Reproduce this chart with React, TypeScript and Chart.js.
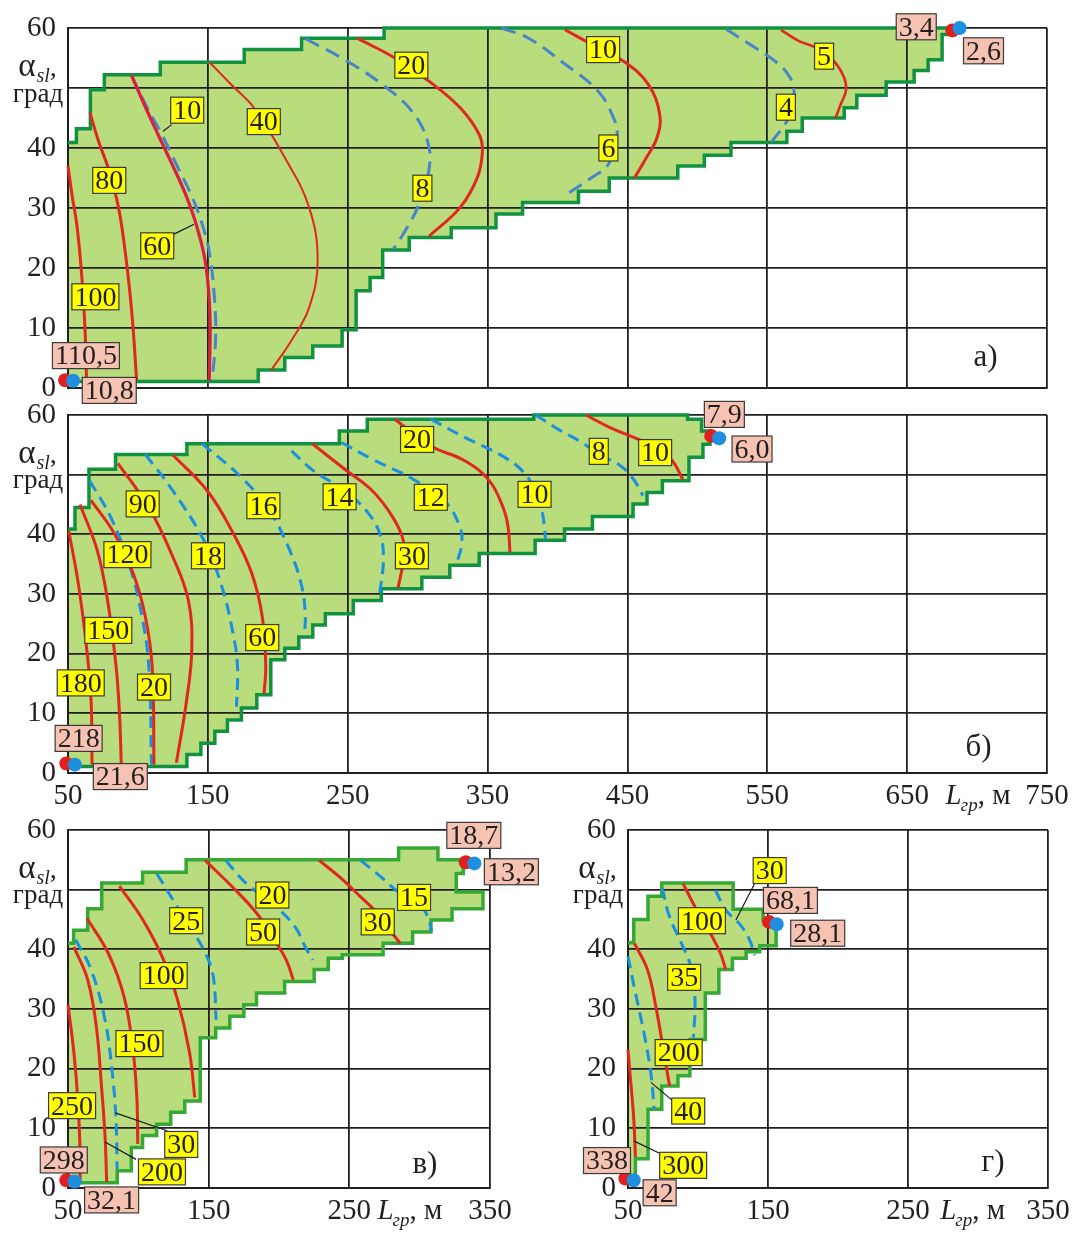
import React, { useEffect, useRef } from 'react';
import { Chart, registerables } from 'chart.js';

Chart.register(...registerables);

type Pt = [number, number];
type Lbl = [number, number, string];
type Seg = [Pt, Pt];

// ---------- shared ticks ----------
const X_TICKS_WIDE = [50, 150, 250, 350, 450, 550, 650, 750];
const X_TICKS_NARROW = [50, 150, 250, 350];
const Y_TICKS = [0, 10, 20, 30, 40, 50, 60];

// ================= а) =================
const A_REGION: Pt[] = [
  [50, 1.1], [186, 1.1], [186, 3], [205, 3], [205, 5.1], [225, 5.1], [225, 7], [246, 7], [246, 9.7], [256, 9.7],
  [256, 16.2], [266, 16.2], [266, 18.4], [275, 18.4], [275, 23], [294, 23], [294, 25.1], [324, 25.1], [324, 26.7],
  [356, 26.7], [356, 29], [375, 29], [375, 30.9], [415, 30.9], [415, 32.8], [437, 32.8], [437, 35], [486, 35],
  [486, 37], [505, 37], [505, 38.8], [524, 38.8], [524, 40.9], [564, 40.9], [564, 42.8], [575, 42.8], [575, 45],
  [605, 45], [605, 46.7], [614, 46.7], [614, 48.8], [635, 48.8], [635, 51], [655, 51], [655, 52.9], [665, 52.9],
  [665, 54.7], [675, 54.7], [675, 58.9], [684, 58.9], [684, 60], [276, 60], [276, 58.3], [217, 58.3], [217, 56.4],
  [176, 56.4], [176, 54.3], [116, 54.3], [116, 52.2], [76, 52.2], [76, 49.7], [66, 49.7], [66, 43.2], [56, 43.2],
  [56, 40.9], [50, 40.9], [50, 1.1],
];
const A_RED_100: Pt[] = [[50, 37], [53, 32], [56.6, 26.7], [60.3, 17.3], [62.3, 9], [63.3, 1.2]];
const A_RED_80: Pt[] = [[65.7, 45.9], [72, 41], [78.7, 36.7], [86.1, 30.1], [91.7, 21.2], [95.9, 11.8], [99.1, 1.2]];
const A_RED_60: Pt[] = [[95.4, 52.1], [105, 47], [114.3, 42.3], [124, 37.5], [134, 32.3], [142, 27], [148.5, 20.6], [151.5, 12], [151, 1.2]];
const A_BLUE_10: Pt[] = [[95.4, 52.1], [106, 47], [117, 42.3], [128, 37], [139, 31.7], [147, 26.5], [151.5, 22], [155, 14], [155.5, 8], [153, 1.2]];
const A_RED_40: Pt[] = [[151.2, 54.3], [167, 50.5], [183, 46.7], [205, 38.4], [222.4, 30.1], [228.5, 21.2], [222.4, 13.4], [210, 8], [195.3, 3]];
const A_BLUE_8: Pt[] = [[219.9, 58.2], [249.4, 54.5], [276.4, 50.3], [296, 46.1], [307, 41.2], [308.3, 36.7], [300.9, 30.6], [291.1, 26.2], [282.5, 23.1]];
const A_RED_20: Pt[] = [[256.7, 58.3], [283.7, 55], [308.3, 51.1], [330.4, 46.7], [343.9, 42.3], [346.3, 39.5], [342.7, 35.1], [330.4, 30.1], [308.3, 25.3]];
const A_BLUE_6: Pt[] = [[359.8, 60], [379.3, 58.3], [404.1, 54.2], [428.9, 49.5], [440.1, 45], [442.6, 42.3], [436.4, 37.3], [422.7, 34.8], [406.6, 32.3]];
const A_RED_10: Pt[] = [[405.4, 59.7], [428.9, 56.7], [448.8, 54.2], [464.9, 50.6], [473.1, 45.6], [471.1, 41.7], [463.6, 38.4], [455, 35]];
const A_BLUE_4: Pt[] = [[520.7, 59.8], [538, 57.2], [555.4, 54.5], [564.1, 52.5], [569, 50], [567.8, 46.7], [564.1, 44.5], [553, 41]];
const A_RED_5: Pt[] = [[559.8, 59.7], [572.7, 57.8], [585.1, 56.7], [597.5, 54.5], [605, 51.7], [606.2, 49.5], [602.5, 47.3], [598.8, 45]];
const A_YELLOW: Lbl[] = [
  [135.2, 46.3, '10'], [190, 44.4, '40'], [295.5, 53.8, '20'], [79.5, 34.6, '80'], [303.4, 33.3, '8'],
  [113.8, 23.7, '60'], [69.6, 15.2, '100'], [432.6, 56.4, '10'], [436.4, 40, '6'], [590.6, 55.3, '5'], [563.3, 46.8, '4'],
];
const A_PINK: Lbl[] = [[62.8, 5.4, '110,5'], [79.5, -0.4, '10,8'], [656.5, 60.2, '3,4'], [704.6, 56.2, '2,6']];
const A_RED_DOTS: Pt[] = [[48, 1.3], [682.3, 59.6]];
const A_BLUE_DOTS: Pt[] = [[53.7, 1.2], [687.5, 60]];
const A_LEADERS: Seg[] = [[[124.1, 43.9], [118, 42.8]], [[125.4, 25.6], [140.1, 27.3]]];

// ================= б) =================
const B_REGION: Pt[] = [
  [50, 1.1], [135, 1.1], [135, 3.1], [145, 3.1], [145, 5], [155, 5], [155, 7], [164, 7], [164, 8.9], [174, 8.9],
  [174, 10.9], [185, 10.9], [185, 13.1], [195, 13.1], [195, 19], [205, 19], [205, 20.9], [215, 20.9], [215, 22.8],
  [225, 22.8], [225, 24.8], [234, 24.8], [234, 26.7], [254, 26.7], [254, 28.9], [274, 28.9], [274, 30.9], [303, 30.9],
  [303, 32.8], [323, 32.8], [323, 34.8], [344, 34.8], [344, 36.8], [384, 36.8], [384, 39], [405, 39], [405, 40.9],
  [425, 40.9], [425, 43], [454, 43], [454, 45.1], [464, 45.1], [464, 47], [475, 47], [475, 49], [494, 49], [494, 52.9],
  [504, 52.9], [504, 55.1], [509, 55.1], [509, 57.3], [503, 57.3], [503, 59.3], [493, 59.3], [493, 60], [383, 60],
  [383, 59.3], [264, 59.3], [264, 57.3], [244, 57.3], [244, 55.2], [135, 55.2], [135, 53.4], [84, 53.4], [84, 50.9],
  [65, 50.9], [65, 44.5], [55, 44.5], [55, 40.9], [50, 40.9], [50, 1.1],
];
const B_RED_180: Pt[] = [[50.5, 40.6], [57.4, 31.7], [63.5, 20.6], [66.5, 12.2], [67.2, 1.4]];
const B_RED_150: Pt[] = [[58.6, 45], [70.9, 37.3], [78.3, 28.9], [84.4, 17.8], [86.9, 9.5], [88.1, 1.4]];
const B_RED_120: Pt[] = [[66.5, 45.7], [83.2, 40.1], [96.7, 33.4], [105.3, 26.2], [110.2, 17.8], [111.5, 1.4]];
const B_BLUE_20: Pt[] = [[65.5, 49], [80.7, 42.8], [94.3, 34.5], [102.9, 26.2], [107.8, 17.8], [109.7, 1.4]];
const B_RED_90: Pt[] = [[85.7, 51.9], [107.8, 44.5], [125, 36.2], [136.1, 28.9], [138.5, 20.6], [134.8, 12.2], [127.5, 1.7]];
const B_BLUE_18: Pt[] = [[105.3, 53.4], [125, 47.3], [147.1, 39], [159.4, 31.7], [168, 23.4], [171.2, 17.8], [170.5, 11.1]];
const B_RED_60: Pt[] = [[125, 53.3], [149.6, 47.3], [168.3, 40.1], [181.5, 33.4], [188.9, 26.2], [191.4, 17.8], [190.2, 13.4]];
const B_BLUE_16: Pt[] = [[145.9, 55.2], [174.2, 49.5], [193.8, 44], [208.6, 37.3], [217.2, 31.2], [219.7, 26.2], [218.9, 23]];
const B_BLUE_14: Pt[] = [[209.8, 54], [225.8, 50.6], [247.9, 47.3], [265.2, 43.4], [273.8, 39.5], [275.5, 35.6], [273.8, 31.7], [272, 28.9]];
const B_RED_30: Pt[] = [[224.6, 55.2], [247.9, 50.9], [267.6, 47.3], [282.4, 42.8], [289.7, 39], [289.7, 35.6], [286, 31]];
const B_BLUE_12: Pt[] = [[245.5, 55.4], [267.6, 52.6], [297.1, 49.2], [319.3, 45.6], [330.3, 41.2], [331.5, 38.4], [327.8, 35]];
const B_RED_20: Pt[] = [[283.6, 59.3], [309.4, 54.8], [334, 52.3], [351.2, 49], [361.1, 44.5], [364.7, 41.2], [366, 37]];
const B_BLUE_10: Pt[] = [[309.4, 59.3], [334, 56.2], [358.6, 53.4], [375, 50.6], [385, 47], [389, 43.9], [391.5, 39.2]];
const B_BLUE_8: Pt[] = [[384.4, 60], [400.5, 57.6], [415.3, 55.7], [430.2, 53.4], [445, 51.5], [452.5, 49.8], [457.4, 48.1], [461.1, 46.5]];
const B_RED_10: Pt[] = [[420.3, 60], [437.6, 57.9], [455, 56.2], [471, 54.5], [482.2, 52.3], [489.6, 49.2]];
const B_YELLOW: Lbl[] = [
  [103.4, 45.1, '90'], [189.7, 44.8, '16'], [244.2, 46.3, '14'], [309.4, 46.2, '12'], [299.6, 55.9, '20'],
  [92.5, 36.6, '120'], [150.1, 36.4, '18'], [295.9, 36.4, '30'], [78.8, 23.9, '150'], [188.9, 22.7, '60'],
  [59.1, 15.1, '180'], [111.5, 14.4, '20'], [383.6, 46.7, '10'], [429.5, 53.9, '8'], [469.8, 53.7, '10'],
];
const B_PINK: Lbl[] = [[57.6, 5.8, '218'], [87.4, -0.6, '21,6'], [519.3, 60.1, '7,9'], [539.1, 54.3, '6,0']];
const B_RED_DOTS: Pt[] = [[48.8, 1.6], [509.9, 56.5]];
const B_BLUE_DOTS: Pt[] = [[54.9, 1.4], [515.6, 56.1]];

// ================= в) =================
const V_REGION: Pt[] = [
  [50, 0.9], [85, 0.9], [85, 2.9], [95, 2.9], [95, 6.8], [103, 6.8], [103, 8.8], [113, 8.8], [113, 10.7], [123, 10.7],
  [123, 12.7], [133, 12.7], [133, 14.6], [144, 14.6], [144, 25.2], [155, 25.2], [155, 26.8], [165, 26.8], [165, 28.8],
  [175, 28.8], [175, 30.7], [184, 30.7], [184, 32.7], [204, 32.7], [204, 34.6], [225, 34.6], [225, 36.6], [235, 36.6],
  [235, 38.5], [245, 38.5], [245, 39.1], [274, 39.1], [274, 41], [295, 41], [295, 42.9], [308, 42.9], [308, 44.9],
  [323, 44.9], [323, 46.8], [345, 46.8], [345, 49.6], [326, 49.6], [326, 52.7], [331, 52.7], [331, 55], [313, 55],
  [313, 57], [285, 57], [285, 55], [134, 55], [134, 52.9], [103, 52.9], [103, 51.1], [74, 51.1], [74, 46.8], [64, 46.8],
  [64, 43.2], [54, 43.2], [54, 41], [50, 41], [50, 0.9],
];
const V_RED_250: Pt[] = [[50, 30.7], [54.2, 22.7], [57.1, 14.3], [58.6, 6], [58.6, 1]];
const V_RED_200: Pt[] = [[54.2, 40.4], [64, 34.9], [70.1, 27.1], [73.8, 17.1], [76.3, 8.8], [77.5, 1]];
const V_BLUE_30: Pt[] = [[55.4, 41.6], [66.4, 36.6], [76.3, 28.2], [81.2, 19.9], [84.1, 11.6], [84.9, 3.2]];
const V_RED_150: Pt[] = [[63.5, 45.2], [78.7, 39.3], [89.8, 32.1], [95.9, 23.8], [98.9, 15.4], [99.6, 7.4]];
const V_RED_100: Pt[] = [[86.6, 50.6], [103.3, 44.9], [118, 38.2], [127.8, 31.6], [136.4, 22.7], [140.1, 15.2]];
const V_BLUE_25: Pt[] = [[113.1, 52.7], [127.8, 47.1], [141.3, 42.1], [149.9, 38.2], [153.6, 34.9], [155.3, 28.2]];
const V_RED_50: Pt[] = [[147.5, 54.9], [167.1, 50.4], [184.3, 46], [196.6, 41.6], [205.2, 38.2], [210.1, 34.9]];
const V_BLUE_20: Pt[] = [[162.2, 54.9], [176.9, 51], [196.6, 47.4], [211.3, 43.8], [218.7, 40.4], [224.1, 38.2]];
const V_RED_30: Pt[] = [[228.5, 54.9], [243.2, 52.1], [258, 48.8], [270.2, 46], [278.8, 43.2], [286.2, 41]];
const V_BLUE_15: Pt[] = [[258, 54.9], [272.7, 52.1], [285, 49.6], [299.7, 47.7], [305.8, 45.4], [308.5, 43]];
const V_YELLOW: Lbl[] = [
  [134, 44.8, '25'], [195.3, 49.1, '20'], [188.7, 42.9, '50'], [296, 48.7, '15'], [270.2, 44.6, '30'],
  [118, 35.6, '100'], [100.8, 24.2, '150'], [52.9, 13.8, '250'], [130.5, 7.3, '30'], [116.8, 2.7, '200'],
];
const V_PINK: Lbl[] = [[47, 4.7, '298'], [81, -2, '32,1'], [338.5, 59.1, '18,7'], [365.2, 53, '13,2']];
const V_RED_DOTS: Pt[] = [[48.8, 1.3], [332.8, 54.6]];
const V_BLUE_DOTS: Pt[] = [[54.7, 1.1], [338.9, 54.4]];
const V_LEADERS: Seg[] = [[[83.6, 12.6], [120.5, 9.6]], [[76.3, 7.7], [98.4, 4.8]]];

// ================= г) =================
const G_REGION: Pt[] = [
  [50, 0.7], [55.3, 0.7], [55.3, 4.9], [64.3, 4.9], [64.3, 13.2], [74.1, 13.2], [74.1, 17.1], [85.7, 17.1],
  [85.7, 18.8], [94.2, 18.8], [94.2, 24.9], [105.2, 24.9], [105.2, 32.7], [114.9, 32.7], [114.9, 36.6], [124.6, 36.6],
  [124.6, 38.5], [134.4, 38.5], [134.4, 39.6], [144.1, 39.6], [144.1, 40.6], [155.8, 40.6], [155.8, 44.9],
  [146.5, 44.9], [146.5, 46.7], [125.1, 46.7], [125.1, 51.1], [74.1, 51.1], [74.1, 48.9], [64.3, 48.9], [64.3, 45],
  [54.1, 45], [54.1, 41.1], [50, 41.1], [50, 0.7],
];
const G_RED_300: Pt[] = [[50, 23.2], [52.2, 17.1], [54.1, 11.6], [55.3, 5.2]];
const G_BLUE_40: Pt[] = [[50, 38.8], [55.3, 32.7], [61.4, 26], [66.3, 19.3], [68.7, 13.2]];
const G_RED_200: Pt[] = [[54.6, 41], [63.9, 36.6], [69.9, 30.4], [74.8, 23.8], [79.7, 17.1]];
const G_BLUE_35: Pt[] = [[74.5, 50.3], [79.7, 45.4], [88.2, 41], [95.5, 36.6], [97.9, 31], [96.7, 25.2]];
const G_RED_100: Pt[] = [[89.4, 51], [97.9, 47.1], [108.8, 42.7], [116.1, 39.3], [119.8, 36.6]];
const G_BLUE_30: Pt[] = [[112.5, 49.9], [119.8, 46.6], [129.5, 44.3], [136.8, 41.6], [140.4, 39]];
const G_YELLOW: Lbl[] = [
  [151.2, 53.2, '30'], [102.8, 44.8, '100'], [90.1, 35.3, '35'], [86.2, 22.7, '200'], [93, 12.9, '40'], [89.4, 3.8, '300'],
];
const G_PINK: Lbl[] = [[166, 48.2, '68,1'], [185.5, 42.7, '28,1'], [35, 4.6, '338'], [72.6, -0.8, '42']];
const G_RED_DOTS: Pt[] = [[48.1, 1.6], [150.7, 44.6]];
const G_BLUE_DOTS: Pt[] = [[54.1, 1.3], [156.2, 44.2]];
const G_LEADERS: Seg[] = [[[141, 51.3], [127.1, 44.9]], [[66.3, 17.7], [82.1, 14.6]], [[54.1, 7.9], [73.6, 5.7]]];

// ---------- styles ----------
const FONT = '"Liberation Serif", "Times New Roman", Times, serif';
const INK = '#231f20';
const GRID = '#231f20';
const FILL = '#b9dc7d';
const EDGE_DARK = '#119240';
const EDGE_LIGHT = '#36a835';
const RED = '#e1281f';
const CRIMSON = '#d8203f';
const BLUE_A = '#4a85c8';
const BLUE = '#1b8fe0';
const DOT_RED = '#e0201f';
const DOT_BLUE = '#1e8fdf';
const YELLOW = '#ffff00';
const PINK = '#f6c3b2';
const TICK_SIZE = 29;
const X_PAD = 6;

interface CurveSpec { pts: Pt[]; color: string; width: number; dash?: number[] }
interface PanelSpec {
  left: number; top: number; w: number; h: number;
  padTop: number; padRight: number; yAxisW: number; xAxisH: number;
  xMax: number; xTicks: number[]; showX: boolean; lTitleX?: number;
  region: Pt[]; edge: string;
  curves: CurveSpec[];
  yellow: Lbl[]; pink: Lbl[]; redDots: Pt[]; blueDots: Pt[]; leaders: Seg[];
  letter: Lbl;
}

const DASH_A = [15, 8];
const DASH = [12, 7];

const PANELS: PanelSpec[] = [
  {
    left: 0, top: 0, w: 1074, h: 410, padTop: 28, padRight: 27, yAxisW: 68, xAxisH: 22,
    xMax: 750, xTicks: X_TICKS_WIDE, showX: false, region: A_REGION, edge: EDGE_DARK,
    curves: [
      { pts: A_BLUE_10, color: BLUE_A, width: 3, dash: DASH_A },
      { pts: A_BLUE_8, color: BLUE_A, width: 3, dash: DASH_A },
      { pts: A_BLUE_6, color: BLUE_A, width: 3, dash: DASH_A },
      { pts: A_BLUE_4, color: BLUE_A, width: 3, dash: DASH_A },
      { pts: A_RED_100, color: RED, width: 3 },
      { pts: A_RED_80, color: RED, width: 3 },
      { pts: A_RED_60, color: CRIMSON, width: 3.2 },
      { pts: A_RED_40, color: RED, width: 2 },
      { pts: A_RED_20, color: RED, width: 3 },
      { pts: A_RED_10, color: RED, width: 3 },
      { pts: A_RED_5, color: RED, width: 2.6 },
    ],
    yellow: A_YELLOW, pink: A_PINK, redDots: A_RED_DOTS, blueDots: A_BLUE_DOTS, leaders: A_LEADERS,
    letter: [706, 5, 'а)'],
  },
  {
    left: 0, top: 400, w: 1074, h: 420, padTop: 15, padRight: 27, yAxisW: 68, xAxisH: 47,
    xMax: 750, xTicks: X_TICKS_WIDE, showX: true, lTitleX: 677.5, region: B_REGION, edge: EDGE_DARK,
    curves: [
      { pts: B_BLUE_20, color: BLUE, width: 3, dash: DASH },
      { pts: B_BLUE_18, color: BLUE, width: 3, dash: DASH },
      { pts: B_BLUE_16, color: BLUE, width: 3, dash: DASH },
      { pts: B_BLUE_14, color: BLUE, width: 3, dash: DASH },
      { pts: B_BLUE_12, color: BLUE, width: 3, dash: DASH },
      { pts: B_BLUE_10, color: BLUE, width: 3, dash: DASH },
      { pts: B_BLUE_8, color: BLUE, width: 3, dash: DASH },
      { pts: B_RED_180, color: RED, width: 3 },
      { pts: B_RED_150, color: RED, width: 3 },
      { pts: B_RED_120, color: RED, width: 3 },
      { pts: B_RED_90, color: RED, width: 3 },
      { pts: B_RED_60, color: RED, width: 3 },
      { pts: B_RED_30, color: RED, width: 3 },
      { pts: B_RED_20, color: RED, width: 3 },
      { pts: B_RED_10, color: RED, width: 3 },
    ],
    yellow: B_YELLOW, pink: B_PINK, redDots: B_RED_DOTS, blueDots: B_BLUE_DOTS, leaders: [],
    letter: [701, 4.2, 'б)'],
  },
  {
    left: 0, top: 815, w: 560, h: 420, padTop: 15, padRight: 70, yAxisW: 68, xAxisH: 47,
    xMax: 350, xTicks: X_TICKS_NARROW, showX: true, lTitleX: 270, region: V_REGION, edge: EDGE_LIGHT,
    curves: [
      { pts: V_BLUE_30, color: BLUE, width: 3, dash: DASH },
      { pts: V_BLUE_25, color: BLUE, width: 3, dash: DASH },
      { pts: V_BLUE_20, color: BLUE, width: 3, dash: DASH },
      { pts: V_BLUE_15, color: BLUE, width: 3, dash: DASH },
      { pts: V_RED_250, color: RED, width: 3 },
      { pts: V_RED_200, color: RED, width: 3 },
      { pts: V_RED_150, color: RED, width: 3 },
      { pts: V_RED_100, color: RED, width: 3 },
      { pts: V_RED_50, color: RED, width: 3 },
      { pts: V_RED_30, color: RED, width: 3 },
    ],
    yellow: V_YELLOW, pink: V_PINK, redDots: V_RED_DOTS, blueDots: V_BLUE_DOTS, leaders: V_LEADERS,
    letter: [303.7, 3.9, 'в)'],
  },
  {
    left: 540, top: 815, w: 534, h: 420, padTop: 15, padRight: 26, yAxisW: 88, xAxisH: 47,
    xMax: 350, xTicks: X_TICKS_NARROW, showX: true, lTitleX: 273, region: G_REGION, edge: EDGE_LIGHT,
    curves: [
      { pts: G_BLUE_40, color: BLUE, width: 3, dash: DASH },
      { pts: G_BLUE_35, color: BLUE, width: 3, dash: DASH },
      { pts: G_BLUE_30, color: BLUE, width: 3, dash: DASH },
      { pts: G_RED_300, color: RED, width: 3 },
      { pts: G_RED_200, color: RED, width: 3 },
      { pts: G_RED_100, color: RED, width: 3 },
    ],
    yellow: G_YELLOW, pink: G_PINK, redDots: G_RED_DOTS, blueDots: G_BLUE_DOTS, leaders: G_LEADERS,
    letter: [310.7, 4.2, 'г)'],
  },
];

function makeAnnot(p: PanelSpec) {
  return {
    id: 'annot',
    afterDatasetsDraw(chart: any) {
      const { ctx } = chart;
      const xs = chart.scales.x;
      const ys = chart.scales.y;
      const px = (v: number) => xs.getPixelForValue(v);
      const py = (v: number) => ys.getPixelForValue(v);
      ctx.save();
      ctx.strokeStyle = '#1a1a1a';
      ctx.lineWidth = 1.2;
      p.leaders.forEach(([[a, b], [c, d]]) => {
        ctx.beginPath();
        ctx.moveTo(px(a), py(b));
        ctx.lineTo(px(c), py(d));
        ctx.stroke();
      });
      ctx.font = `28px ${FONT}`;
      ctx.textAlign = 'center';
      ctx.textBaseline = 'middle';
      const box = (x: number, y: number, t: string, fill: string) => {
        const w = ctx.measureText(t).width + 5;
        const h = 26;
        const cx = px(x);
        const cy = py(y);
        ctx.fillStyle = fill;
        ctx.fillRect(cx - w / 2, cy - h / 2, w, h);
        ctx.strokeStyle = '#3a3a3a';
        ctx.lineWidth = 1.2;
        ctx.strokeRect(cx - w / 2, cy - h / 2, w, h);
        ctx.fillStyle = INK;
        ctx.fillText(t, cx, cy + 1.5);
      };
      p.yellow.forEach(([x, y, t]) => box(x, y, t, YELLOW));
      p.pink.forEach(([x, y, t]) => box(x, y, t, PINK));
      ctx.restore();
    },
    afterDraw(chart: any) {
      const { ctx, chartArea } = chart;
      const xs = chart.scales.x;
      const ys = chart.scales.y;
      ctx.save();
      ctx.fillStyle = INK;
      // y-axis title: α_sl, град
      const ax = chartArea.left - 31;
      const yb = ys.getPixelForValue(52);
      ctx.textBaseline = 'alphabetic';
      ctx.textAlign = 'left';
      ctx.font = `33px ${FONT}`;
      const wa = ctx.measureText('α').width;
      ctx.font = `italic 20px ${FONT}`;
      const ws = ctx.measureText('sl').width;
      ctx.font = `28px ${FONT}`;
      const wc = ctx.measureText(',').width;
      const start = ax - (wa + ws + wc) / 2;
      ctx.font = `33px ${FONT}`;
      ctx.fillText('α', start, yb);
      ctx.font = `italic 20px ${FONT}`;
      ctx.fillText('sl', start + wa + 1, yb + 6);
      ctx.font = `28px ${FONT}`;
      ctx.fillText(',', start + wa + ws + 1, yb);
      ctx.font = `27px ${FONT}`;
      ctx.textAlign = 'center';
      ctx.fillText('град', ax + 1, ys.getPixelForValue(47.7));
      // x-axis title: L_гр, м
      if (p.showX && p.lTitleX !== undefined) {
        const lx = xs.getPixelForValue(p.lTitleX);
        const ly = chartArea.bottom + X_PAD + TICK_SIZE * 0.6;
        ctx.textBaseline = 'middle';
        ctx.textAlign = 'left';
        ctx.font = `italic ${TICK_SIZE}px ${FONT}`;
        ctx.fillText('L', lx, ly);
        const wl = ctx.measureText('L').width;
        ctx.font = `italic 19px ${FONT}`;
        ctx.fillText('гр', lx + wl - 1, ly + 10);
        const wg = ctx.measureText('гр').width;
        ctx.font = `${TICK_SIZE}px ${FONT}`;
        ctx.fillText(', м', lx + wl + wg - 1, ly);
      }
      // panel letter
      ctx.font = `31px ${FONT}`;
      ctx.textAlign = 'center';
      ctx.textBaseline = 'middle';
      ctx.fillText(p.letter[2], xs.getPixelForValue(p.letter[0]), ys.getPixelForValue(p.letter[1]));
      ctx.restore();
    },
  };
}

function buildConfig(p: PanelSpec): any {
  const datasets: any[] = [];
  datasets.push({
    data: p.region.map(([x, y]) => ({ x, y })),
    borderColor: p.edge,
    borderWidth: 3.5,
    backgroundColor: FILL,
    fill: 'shape',
    pointRadius: 0,
    tension: 0,
    order: 100,
    clip: false,
    borderJoinStyle: 'miter',
    segment: {
      borderColor: (c: any) => (c.p0.parsed.x === 50 && c.p1.parsed.x === 50 ? 'rgba(0,0,0,0)' : undefined),
    },
  });
  p.curves.forEach((c) => {
    datasets.push({
      data: c.pts.map(([x, y]) => ({ x, y })),
      borderColor: c.color,
      borderWidth: c.width,
      borderDash: c.dash || [],
      fill: false,
      pointRadius: 0,
      tension: 0.4,
      order: c.dash ? 40 : 30,
      clip: false,
    });
  });
  datasets.push({
    data: p.redDots.map(([x, y]) => ({ x, y })),
    showLine: false, pointRadius: 7, pointBackgroundColor: DOT_RED, pointBorderWidth: 0, order: 2, clip: false,
  });
  datasets.push({
    data: p.blueDots.map(([x, y]) => ({ x, y })),
    showLine: false, pointRadius: 7, pointBackgroundColor: DOT_BLUE, pointBorderWidth: 0, order: 1, clip: false,
  });
  const tickFont = { family: FONT, size: TICK_SIZE };
  return {
    type: 'line',
    data: { datasets },
    options: {
      responsive: false,
      maintainAspectRatio: false,
      animation: false,
      devicePixelRatio: 1,
      events: [],
      layout: { padding: { top: p.padTop, right: p.padRight, left: 0, bottom: 0 } },
      plugins: {
        legend: { display: false },
        tooltip: { enabled: false },
        filler: { drawTime: 'beforeDraw' },
      },
      scales: {
        x: {
          type: 'linear',
          min: 50,
          max: p.xMax,
          afterBuildTicks: (s: any) => { s.ticks = p.xTicks.map((v) => ({ value: v })); },
          afterFit: (s: any) => { s.height = p.xAxisH; s.paddingLeft = 0; s.paddingRight = 0; },
          grid: { color: GRID, lineWidth: 1.8, drawTicks: false },
          border: { color: GRID, width: 2 },
          ticks: {
            display: p.showX, color: INK, font: tickFont, padding: X_PAD, maxRotation: 0, autoSkip: false,
            callback: (v: any) => String(v),
          },
        },
        y: {
          type: 'linear',
          min: 0,
          max: 60,
          afterBuildTicks: (s: any) => { s.ticks = Y_TICKS.map((v) => ({ value: v })); },
          afterFit: (s: any) => { s.width = p.yAxisW; s.paddingTop = 0; s.paddingBottom = 0; },
          grid: { color: GRID, lineWidth: 1.8, drawTicks: false },
          border: { color: GRID, width: 2 },
          ticks: {
            color: INK, font: tickFont, padding: 12, autoSkip: false,
            callback: (v: any) => (v === 50 ? '' : String(v)),
          },
        },
      },
    },
    plugins: [makeAnnot(p)],
  };
}

function PanelChart({ spec }: { spec: PanelSpec }) {
  const ref = useRef<HTMLCanvasElement>(null);
  useEffect(() => {
    if (!ref.current) return undefined;
    const chart = new Chart(ref.current, buildConfig(spec));
    return () => chart.destroy();
  }, [spec]);
  return (
    <canvas
      ref={ref}
      width={spec.w}
      height={spec.h}
      style={{ position: 'absolute', left: spec.left, top: spec.top, width: spec.w, height: spec.h, display: 'block' }}
    />
  );
}

export default function App() {
  return (
    <div style={{ position: 'absolute', left: 0, top: 0, width: 1074, height: 1235, background: '#ffffff', overflow: 'hidden' }}>
      {PANELS.map((p, i) => (
        <PanelChart key={i} spec={p} />
      ))}
    </div>
  );
}
